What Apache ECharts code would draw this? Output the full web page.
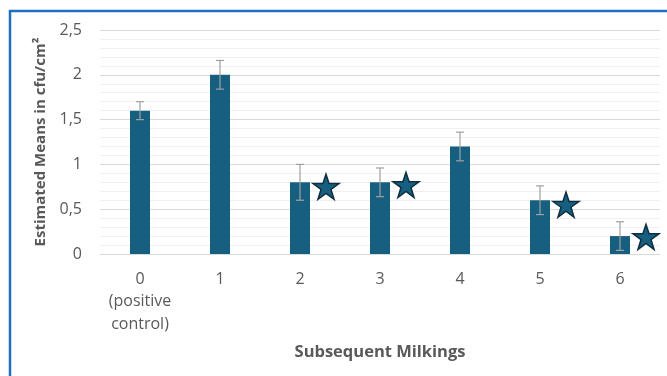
<!DOCTYPE html>
<html>
<head>
<meta charset="utf-8">
<script src="https://cdn.jsdelivr.net/npm/echarts@6/dist/echarts.min.js"></script>
<style>
  html, body { margin: 0; padding: 0; background: #ffffff; }
  #chart { width: 667px; height: 376px; }
</style>
</head>
<body>
<div id="chart"></div>
<script>
// Milking groups and estimated means with their error margins
const categories = ['0\n(positive\ncontrol)', '1', '2', '3', '4', '5', '6'];
const means = [1.6, 2.0, 0.8, 0.8, 1.2, 0.6, 0.2];
const errors = [0.1, 0.16, 0.2, 0.16, 0.16, 0.16, 0.16];
// Significance markers (star placed beside the bar)
const starValues = [null, null, 0.75, 0.77, null, 0.55, 0.19];

const barColor = '#175f80';
const textColor = '#595959';
const font = '"Open Sans", "Noto Sans", sans-serif';

const chart = echarts.init(document.getElementById('chart'), null, { renderer: 'canvas' });

chart.setOption({
  animation: false,
  backgroundColor: '#ffffff',
  graphic: [{
    type: 'rect',
    shape: { x: 10, y: 11, width: 700, height: 420 },
    style: { fill: 'none', stroke: '#1f6fbf', lineWidth: 2.5 },
    silent: true
  }],
  grid: { left: 100, right: 7, top: 30, bottom: 122 },
  xAxis: {
    type: 'category',
    data: categories,
    name: 'Subsequent Milkings',
    nameLocation: 'middle',
    nameGap: 90,
    nameTextStyle: { fontFamily: font, fontWeight: 'bold', fontSize: 16.5, color: textColor },
    axisLine: { show: true, lineStyle: { color: '#d9d9d9', width: 1 } },
    axisTick: { show: false },
    axisLabel: { interval: 0, fontFamily: font, fontSize: 16, color: textColor, lineHeight: 22.5, margin: 14 }
  },
  yAxis: {
    type: 'value',
    min: 0,
    max: 2.5,
    interval: 0.5,
    name: 'Estimated Means in cfu/cm²',
    nameLocation: 'middle',
    nameGap: 47,
    nameTextStyle: { fontFamily: font, fontWeight: 'bold', fontSize: 15, color: textColor },
    axisLine: { show: false },
    axisTick: { show: false },
    axisLabel: {
      fontFamily: font, fontSize: 16, color: textColor, margin: 18,
      formatter: v => String(v).replace('.', ',')
    },
    splitLine: { show: true, lineStyle: { color: '#d9d9d9', width: 1 } },
    minorTick: { show: false, splitNumber: 5 },
    minorSplitLine: { show: true, lineStyle: { color: '#f0f0f0', width: 1 } }
  },
  series: [
    {
      type: 'bar',
      data: means,
      barWidth: 20,
      itemStyle: { color: barColor },
      z: 2
    },
    {
      type: 'custom',
      data: means.map((m, i) => [i, m - errors[i], m + errors[i]]),
      renderItem: function (params, api) {
        const i = api.value(0);
        const lo = api.coord([i, api.value(1)]);
        const hi = api.coord([i, api.value(2)]);
        const cap = 4;
        const style = { stroke: '#a0a0a0', lineWidth: 1.2 };
        return {
          type: 'group',
          children: [
            { type: 'line', shape: { x1: hi[0], y1: hi[1], x2: lo[0], y2: lo[1] }, style },
            { type: 'line', shape: { x1: hi[0] - cap, y1: hi[1], x2: hi[0] + cap, y2: hi[1] }, style },
            { type: 'line', shape: { x1: lo[0] - cap, y1: lo[1], x2: lo[0] + cap, y2: lo[1] }, style }
          ]
        };
      },
      z: 3
    },
    {
      type: 'scatter',
      data: starValues,
      symbol: 'path://M50,0 L61.8,35.4 L100,35.4 L69.1,57.3 L80.9,95.1 L50,72.4 L19.1,95.1 L30.9,57.3 L0,35.4 L38.2,35.4 Z',
      symbolSize: [26, 25],
      symbolOffset: [26, 0],
      itemStyle: { color: barColor, opacity: 1, borderColor: '#0e2f40', borderWidth: 1.5 },
      z: 4
    }
  ]
});
</script>
</body>
</html>
